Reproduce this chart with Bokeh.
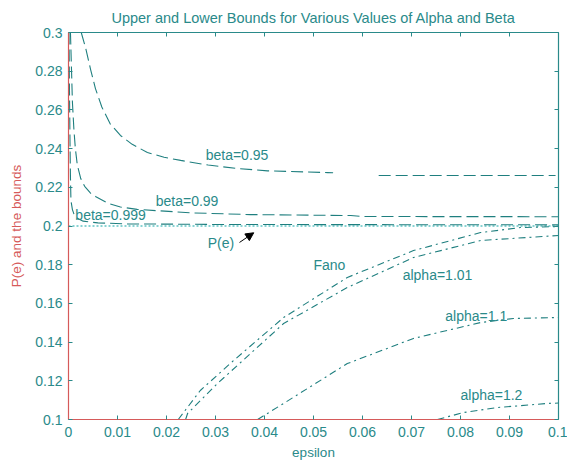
from bokeh.plotting import figure
from bokeh.models import (LinearAxis, Range1d, Label, Arrow, NormalHead,
                          FixedTicker, NumeralTickFormatter)
from bokeh.embed import file_html
from bokeh.resources import INLINE

# ---------------- data ----------------
x_ticks = [0, 0.01, 0.02, 0.03, 0.04, 0.05, 0.06, 0.07, 0.08, 0.09, 0.1]
y_ticks = [0.1, 0.12, 0.14, 0.16, 0.18, 0.2, 0.22, 0.24, 0.26, 0.28, 0.3]

pe_x = [0.0, 0.1]
pe_y = [0.2, 0.2]

beta95_x = [0.0026, 0.0035, 0.0045, 0.0055, 0.0068, 0.0085, 0.0106, 0.013, 0.0161,
            0.0195, 0.0229, 0.0285, 0.0345, 0.0406, 0.0529, 0.054, float("nan"),
            0.0633, 0.08, 0.0994]
beta95_y = [0.3, 0.292, 0.281, 0.271, 0.2615, 0.2528, 0.2468, 0.2422, 0.238,
            0.2355, 0.2339, 0.2315, 0.2297, 0.2285, 0.2276, 0.2275, float("nan"),
            0.2261, 0.2261, 0.2261]

beta99_x = [0.0004, 0.0006, 0.0008, 0.0011, 0.0014, 0.0018, 0.0025, 0.0033, 0.0045,
            0.0055, 0.008, 0.0106, 0.014, 0.0188, 0.025, 0.0371, 0.0576, 0.06, 0.1]
beta99_y = [0.3, 0.282, 0.264, 0.250, 0.240, 0.2315, 0.2245, 0.2205, 0.217,
            0.2153, 0.2118, 0.2098, 0.2086, 0.2078, 0.2068, 0.2059, 0.2054, 0.2049, 0.2048]

beta999_x = [0.0001, 0.0002, 0.0003, 0.0004, 0.0005, 0.0008, 0.0012, 0.0018,
             0.003, 0.006, 0.012, 0.03, 0.06, 0.1]
beta999_y = [0.3, 0.27, 0.245, 0.225, 0.213, 0.2085, 0.2055, 0.204,
             0.2025, 0.2016, 0.2011, 0.2008, 0.2007, 0.2006]

fano_x = [0.0224, 0.0269, 0.0337, 0.0439, 0.0569, 0.0704, 0.0841, 0.0922, 0.1]
fano_y = [0.1, 0.115, 0.1305, 0.1527, 0.1734, 0.1873, 0.1966, 0.1992, 0.1997]

a101_x = [0.0239, 0.0243, 0.0304, 0.0439, 0.0569, 0.0704, 0.0841, 0.1]
a101_y = [0.1, 0.1031, 0.1186, 0.1496, 0.1682, 0.1837, 0.1925, 0.1951]

a11_x = [0.0386, 0.0439, 0.0569, 0.0704, 0.0841, 0.0908, 0.1]
a11_y = [0.1, 0.1083, 0.1289, 0.1419, 0.1501, 0.1522, 0.1527]

a12_x = [0.0753, 0.0806, 0.0876, 0.0978, 0.1]
a12_y = [0.1, 0.1036, 0.1062, 0.1083, 0.1085]

labels_text = ["beta=0.95", "beta=0.99", "beta=0.999", "P(e)", "Fano",
               "alpha=1.01", "alpha=1.1", "alpha=1.2"]
labels_x = [0.028, 0.0178, 0.0014, 0.0284, 0.05, 0.0682, 0.0769, 0.08]
labels_y = [0.2328, 0.209, 0.2013, 0.1873, 0.1755, 0.1703, 0.1496, 0.1083]

arrow_start = (0.0349, 0.1915)
arrow_end = (0.0378, 0.1965)

# ---------------- styling ----------------
teal = "#2a8a8a"
line_c = "#1f7f7f"
red = "#d65a5a"
font = "Liberation Sans"

p = figure(width=567, height=464, output_backend="svg", toolbar_location=None,
           x_range=Range1d(0, 0.1), y_range=Range1d(0.1, 0.3),
           min_border_left=68, min_border_right=9, min_border_top=32,
           min_border_bottom=45,
           x_axis_label="epsilon", y_axis_label="P(e) and the bounds")

p.title.text = "Upper and Lower Bounds for Various Values of Alpha and Beta"
p.title.align = "center"
p.title.text_font = font
p.title.text_font_size = "14.5px"
p.title.text_font_style = "normal"
p.title.text_color = teal
p.title.standoff = 14

p.xgrid.visible = False
p.ygrid.visible = False
p.outline_line_color = None
p.background_fill_color = "white"
p.border_fill_color = "white"

for ax, tk in ((p.xaxis[0], x_ticks), (p.yaxis[0], y_ticks)):
    ax.ticker = FixedTicker(ticks=tk)
    ax.formatter = NumeralTickFormatter(format="0.[00]")
    ax.major_tick_in = 4
    ax.major_tick_out = 0
    ax.minor_tick_line_color = None
    ax.axis_line_color = red
    ax.axis_line_width = 1.2
    ax.major_tick_line_color = teal
    ax.major_label_text_color = teal
    ax.major_label_text_font = font
    ax.major_label_text_font_size = "14px"
    ax.axis_label_text_font = font
    ax.axis_label_text_font_size = "13.5px"
    ax.axis_label_text_font_style = "normal"

p.xaxis[0].axis_label_text_color = teal
p.yaxis[0].axis_label_text_color = red
p.xaxis[0].major_label_standoff = 7
p.yaxis[0].major_label_standoff = 6
p.xaxis[0].axis_label_standoff = 5
p.yaxis[0].axis_label_standoff = 8

for loc, tk in (("above", x_ticks), ("right", y_ticks)):
    ax = LinearAxis(ticker=FixedTicker(ticks=tk), major_label_text_font_size="0px",
                    major_label_text_color=None,
                    major_label_standoff=0, major_tick_in=4, major_tick_out=0,
                    minor_tick_line_color=None, axis_line_color=teal,
                    axis_line_width=1.2, major_tick_line_color=teal)
    p.add_layout(ax, loc)

# P(e) dotted
p.line(pe_x, pe_y, line_color="#12a6a6", line_width=1.2, line_dash="2 2")

# upper bounds (dashed)
for xs, ys in ((beta95_x, beta95_y), (beta99_x, beta99_y), (beta999_x, beta999_y)):
    p.line(xs, ys, line_color=line_c, line_width=1.1, line_dash="12 5")

# lower bounds (dash-dot)
for xs, ys in ((fano_x, fano_y), (a101_x, a101_y), (a11_x, a11_y), (a12_x, a12_y)):
    p.line(xs, ys, line_color=line_c, line_width=1.1, line_dash="7 4 2 4")

for t, lx, ly in zip(labels_text, labels_x, labels_y):
    p.add_layout(Label(x=lx, y=ly, text=t, text_font=font, text_font_size="14px",
                       text_color=teal, text_baseline="bottom"))

p.add_layout(Arrow(end=NormalHead(size=8, fill_color="black", line_color="black"),
                   x_start=arrow_start[0], y_start=arrow_start[1],
                   x_end=arrow_end[0], y_end=arrow_end[1],
                   line_color="black", line_width=1))

open("out.html", "w").write(file_html(p, INLINE))
